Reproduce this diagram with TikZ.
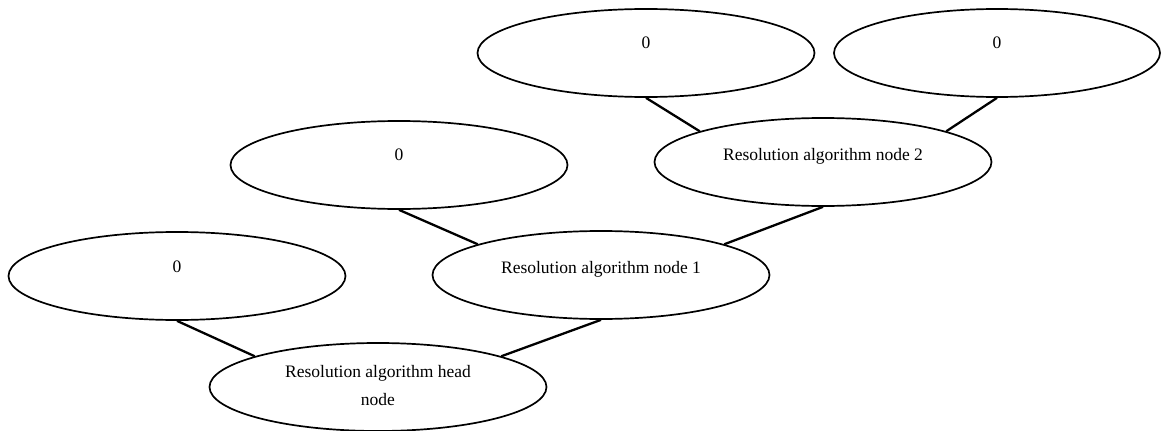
\documentclass[tikz,border=0pt]{standalone}
\usepackage{fontspec}
\setmainfont{Liberation Serif}
\usetikzlibrary{shapes.geometric}
\begin{document}
\begin{tikzpicture}[x=1pt,y=-1pt,
  ell/.style={draw=black, ellipse, line width=1.7pt, minimum width=337pt, minimum height=88pt, inner sep=0pt},
  lbl/.style={font=\fontsize{17.5}{28}\selectfont, align=center, inner sep=0pt},
  conn/.style={draw=black, line width=2.3pt}]
\useasboundingbox (0,0) rectangle (1163,431);
% ellipses
\node[ell] (A) at (646,53) {};
\node[ell, minimum width=326pt] (B) at (997,53) {};
\node[ell] (C) at (823,162) {};
\node[ell] (D) at (399,165) {};
\node[ell] (E) at (601,275) {};
\node[ell] (F) at (177,276) {};
\node[ell] (G) at (378,387) {};
% labels
\node[lbl] (tA) at (646,43) {0};
\node[lbl] (tB) at (997,43) {0};
\node[lbl] (tC) at (823,156) {Resolution algorithm node 2};
\node[lbl] (tD) at (399,155) {0};
\node[lbl] (tE) at (601,269) {Resolution algorithm node 1};
\node[lbl] (tF) at (177,267) {0};
\node[lbl] (tG) at (378,386) {Resolution algorithm head\\node};
% connectors
\draw[conn] (A.south) -- (C.166);
\draw[conn] (B.south) -- (C.14);
\draw[conn] (D.south) -- (E.166);
\draw[conn] (C.south) -- (E.14);
\draw[conn] (F.south) -- (G.166);
\draw[conn] (E.south) -- (G.14);
\end{tikzpicture}
\end{document}
